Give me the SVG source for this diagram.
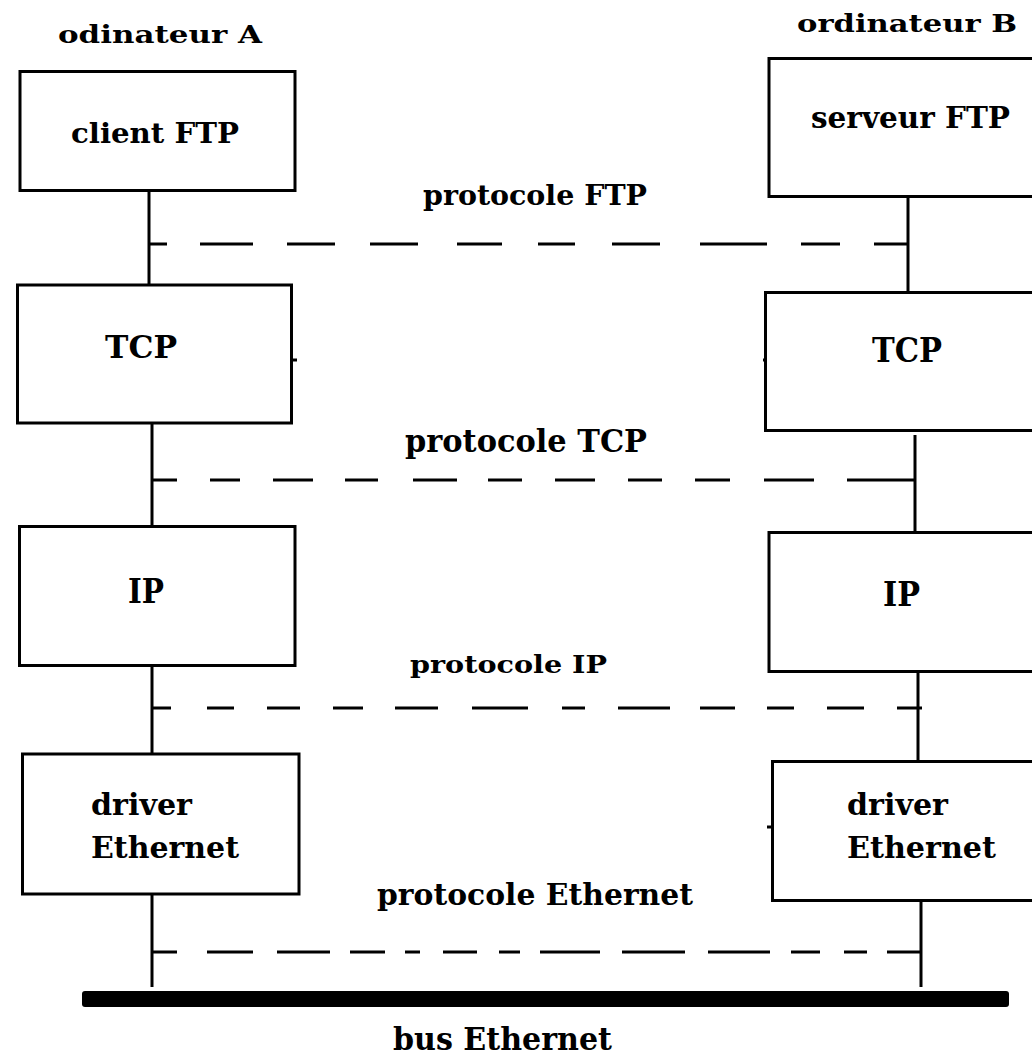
<svg xmlns="http://www.w3.org/2000/svg" width="1032" height="1058" viewBox="0 0 1032 1058">
<style>
.box{fill:#fff;stroke:#000;stroke-width:3}
.t{font-family:"DejaVu Serif","Liberation Serif",serif;font-weight:bold;fill:#000}
.v{stroke:#000;stroke-width:3;fill:none}
.d{stroke:#000;stroke-width:3;fill:none}
</style>
<rect width="1032" height="1058" fill="#fff"/>
<g id="labels">
<text class="t" x="58" y="43" font-size="24" textLength="204" lengthAdjust="spacingAndGlyphs">odinateur A</text>
<text class="t" x="797" y="32" font-size="25" textLength="220" lengthAdjust="spacingAndGlyphs">ordinateur B</text>
<text class="t" x="423" y="205" font-size="27" textLength="224" lengthAdjust="spacingAndGlyphs">protocole FTP</text>
<text class="t" x="405" y="452" font-size="32" textLength="242" lengthAdjust="spacingAndGlyphs">protocole TCP</text>
<text class="t" x="410" y="673" font-size="25" textLength="197" lengthAdjust="spacingAndGlyphs">protocole IP</text>
<text class="t" x="377" y="905" font-size="30" textLength="316" lengthAdjust="spacingAndGlyphs">protocole Ethernet</text>
<text class="t" x="393" y="1050" font-size="31" textLength="219" lengthAdjust="spacingAndGlyphs">bus Ethernet</text>
</g>
<g id="connectors">
<line class="v" x1="149" y1="190" x2="149" y2="288"/>
<line class="v" x1="152" y1="423" x2="152" y2="530"/>
<line class="v" x1="152" y1="666" x2="152" y2="754"/>
<line class="v" x1="152" y1="894" x2="152" y2="987"/>
<line class="v" x1="908" y1="197" x2="908" y2="293"/>
<line class="v" x1="915" y1="435" x2="915" y2="537"/>
<line class="v" x1="918" y1="672" x2="918" y2="761"/>
<line class="v" x1="921" y1="901" x2="921" y2="987"/>
<path class="d" d="M150 244H167M200 244H253M287 244H335M370 244H418M457 244H502M538 244H575M612 244H660M700 244H767M801 244H840M874 244H908"/>
<path class="d" stroke-width="4" d="M152 480H177M210 480H240M273 480H313M345 480H378M413 480H457M488 480H522M555 480H595M628 480H662M695 480H730M764 480H814M847 480H915"/>
<path class="d" d="M152 708H171M207 708H234M267 708H300M333 708H363M395 708H438M472 708H528M562 708H585M618 708H670M700 708H735M767 708H794M827 708H864M897 708H922"/>
<path class="d" d="M152 952H177M207 952H253M277 952H330M350 952H385M405 952H420M443 952H477M499 952H520M540 952H600M622 952H685M708 952H770M791 952H820M844 952H867M887 952H921"/>
<line class="v" x1="291" y1="360" x2="297" y2="360" stroke-width="2"/>
<line class="v" x1="763" y1="360" x2="768" y2="360" stroke-width="2"/>
<line class="v" x1="767" y1="827" x2="772" y2="827" stroke-width="2"/>
<rect x="82" y="991" width="927" height="16" rx="3" fill="#000"/>
</g>
<g id="client-ftp">
<rect class="box" x="20" y="71.5" width="275" height="119"/>
<text class="t" x="71" y="143" font-size="28" textLength="168" lengthAdjust="spacingAndGlyphs">client FTP</text>
</g>
<g id="tcp-a">
<rect class="box" x="17.5" y="285" width="274" height="138"/>
<text class="t" x="105" y="358" font-size="32" textLength="72" lengthAdjust="spacingAndGlyphs">TCP</text>
</g>
<g id="ip-a">
<rect class="box" x="19.5" y="526.5" width="275.5" height="139"/>
<text class="t" x="128" y="603" font-size="34" textLength="36" lengthAdjust="spacingAndGlyphs">IP</text>
</g>
<g id="driver-a">
<rect class="box" x="22.5" y="754" width="276.5" height="140"/>
<text class="t" x="91" y="815" font-size="30" textLength="101" lengthAdjust="spacingAndGlyphs">driver</text>
<text class="t" x="91" y="858" font-size="30" textLength="148" lengthAdjust="spacingAndGlyphs">Ethernet</text>
</g>
<g id="serveur-ftp">
<rect class="box" x="769" y="58.5" width="280" height="138"/>
<text class="t" x="811" y="128" font-size="29" textLength="199" lengthAdjust="spacingAndGlyphs">serveur FTP</text>
</g>
<g id="tcp-b">
<rect class="box" x="765.5" y="292.5" width="280" height="138"/>
<text class="t" x="872" y="362" font-size="33" textLength="70" lengthAdjust="spacingAndGlyphs">TCP</text>
</g>
<g id="ip-b">
<rect class="box" x="769" y="532.5" width="280" height="139"/>
<text class="t" x="883" y="606" font-size="34" textLength="37" lengthAdjust="spacingAndGlyphs">IP</text>
</g>
<g id="driver-b">
<rect class="box" x="772.5" y="761.5" width="280" height="139"/>
<text class="t" x="847" y="815" font-size="30" textLength="101" lengthAdjust="spacingAndGlyphs">driver</text>
<text class="t" x="847" y="858" font-size="30" textLength="149" lengthAdjust="spacingAndGlyphs">Ethernet</text>
</g>
</svg>
